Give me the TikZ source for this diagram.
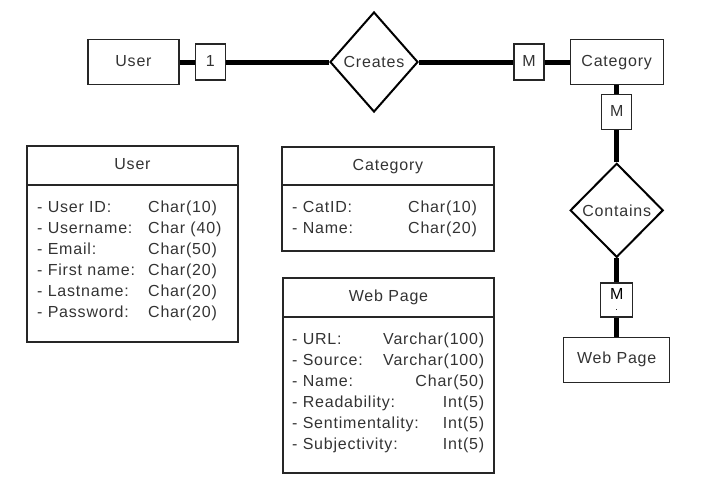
\documentclass[tikz,border=0pt]{standalone}
\usepackage{fontspec}
\setmainfont{Liberation Sans}[LetterSpace=5]
\usetikzlibrary{positioning, shapes.geometric}

\begin{document}
\begin{tikzpicture}[x=1pt, y=-1pt, every node/.style={text=black!80, font=\fontsize{16}{21}\selectfont},
  entity/.style={draw=black!85, line width=1.2pt, rectangle, minimum width=93pt, minimum height=45pt, inner sep=0pt, text height=12pt, text depth=4pt},
  card/.style={draw=black!85, line width=1.2pt, rectangle, minimum width=30pt, minimum height=35pt, inner sep=0pt, text height=12pt, text depth=4pt},
  relation/.style={draw=black, line width=2pt, diamond, inner sep=0pt},
  link/.style={line width=5pt, black},
  tabhead/.style={draw=black!85, line width=1.4pt, rectangle, minimum width=211pt, minimum height=39pt, inner sep=0pt, outer sep=0pt, text height=12pt, text depth=4pt},
  tabbody/.style={tabhead, minimum height=#1},
  tabrows/.style={inner sep=0pt, align=left}]

\useasboundingbox (0,0) rectangle (714,501);

  % Nodes
  \node[entity, minimum width=91pt] (user) at (133.5,62) {User};
  \node[card, minimum height=36pt, right=15pt of user] (one) {1};
  \node[relation, minimum width=88pt, minimum height=100pt] (creates) at (374,62) {Creates};
  \node[card, minimum height=36pt] (mtop) at (529,62) {M};
  \node[entity, right=25pt of mtop] (category) {Category};
  \node[card, below=9pt of category] (mcat) {M};
  \node[relation, minimum width=93pt, minimum height=94pt, below=32pt of mcat] (contains) {Contains};
  \node[card, minimum width=32pt, minimum height=34pt, below=24pt of contains, text=black, align=center, text height=, text depth=] (mweb) {M\\[-10pt]\fontsize{9}{9}\selectfont.};
  \node[entity, minimum width=106pt, below=19pt of mweb] (webpage) {Web Page};

  % Connectors
  \draw[link] (user) -- (one);
  \draw[link] (one) -- (creates);
  \draw[link] (creates) -- (mtop);
  \draw[link] (mtop) -- (category);
  \draw[link] (category) -- (mcat);
  \draw[link] (mcat) -- (contains);
  \draw[link] (contains) -- (mweb);
  \draw[link] (mweb) -- (webpage);

  % Tables
  \node[tabhead] (userhead) at (132.5,165.5) {User};
  \node[tabbody=157pt, below=0pt of userhead] (userbody) {};
  \node[tabrows, below right=13pt and 10pt of userbody.north west] (userrows) {%
    \begin{tabular}{@{}p{111pt}@{}l@{}}
    - User ID: & Char(10)\\
    - Username: & Char (40)\\
    - Email: & Char(50)\\
    - First name: & Char(20)\\
    - Lastname: & Char(20)\\
    - Password: & Char(20)
    \end{tabular}};

  \node[tabhead, minimum width=212pt, minimum height=38pt] (cathead) at (388,166) {Category};
  \node[tabbody=66pt, minimum width=212pt, below=0pt of cathead] (catbody) {};
  \node[tabrows, below right=13pt and 10pt of catbody.north west] (catrows) {%
    \begin{tabular}{@{}p{116pt}@{}l@{}}
    - CatID: & Char(10)\\
    - Name: & Char(20)
    \end{tabular}};

  \node[tabhead] (webhead) at (388.5,297.5) {Web Page};
  \node[tabbody=156pt, below=0pt of webhead] (webbody) {};
  \node[tabrows, below right=13pt and 9pt of webbody.north west] (webrows) {%
    \begin{tabular}{@{}p{192pt}@{}}
    - URL:\hfill Varchar(100)\\
    - Source:\hfill Varchar(100)\\
    - Name:\hfill Char(50)\hspace{5pt}\\
    - Readability:\hfill Int(5)\\
    - Sentimentality:\hfill Int(5)\\
    - Subjectivity:\hfill Int(5)
    \end{tabular}};

\end{tikzpicture}
\end{document}
